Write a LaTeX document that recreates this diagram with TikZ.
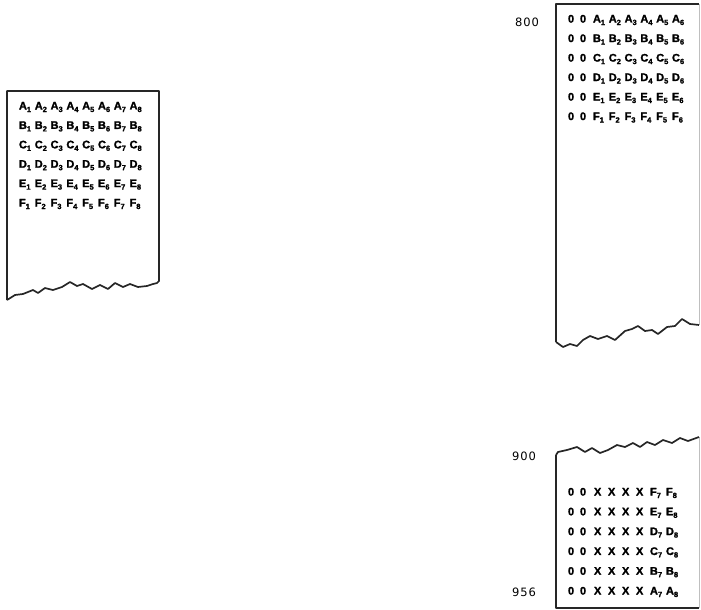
\documentclass[tikz,border=0pt]{standalone}
\usepackage{fontspec}
\setmainfont{Liberation Sans}
\newfontfamily\entfont[FakeBold=1.6]{Liberation Sans Bold}
\newfontfamily\lblfont[LetterSpace=8]{DejaVu Sans}
\newcommand{\ent}[2]{{\entfont\fontsize{11}{11}\selectfont #1}\raisebox{-2.5pt}{\entfont\fontsize{7.5}{7.5}\selectfont #2}}
\begin{document}
\begin{tikzpicture}[x=1pt,y=-1pt,
  edge/.style={draw=black!85,line width=1.7pt,line join=round},
  faint/.style={draw=black!25,line width=0.8pt},
  cell/.style={anchor=west,inner sep=0pt,outer sep=0pt},
  lbl/.style={anchor=center,inner sep=0pt,font=\lblfont\fontsize{11.5}{11.5}\selectfont}]
\useasboundingbox (0,0) rectangle (701,610);
% left box
\coordinate (L1) at (7,300);
\coordinate (L2) at (159,281);
\draw[edge] (L1) -- (7,91) -- (159,91) -- (L2)
  -- (157,283) -- (153,284) -- (147,286) -- (138,287) -- (130,284) -- (123,287)
  -- (115,283) -- (108,289) -- (100,285) -- (92,289) -- (83,284) -- (77,286)
  -- (70,282) -- (62,287) -- (53,290) -- (45,288) -- (38,293) -- (33,290)
  -- (23,294) -- (15,295) -- (L1);
% left box rows
\foreach \r [count=\j from 0] in {A,B,C,D,E,F}{
  \foreach \k [count=\i from 0] in {1,...,8}{
    \node[cell] (l\r\k) at ({19+15.8*\i},{107+19.4*\j}) {\ent{\r}{\k}};
  }
}
% top right box
\coordinate (T1) at (556,342);
\coordinate (T2) at (699,325);
\draw[edge] (T1) -- (556,4) -- (699,4);
\draw[faint] (699,4) -- (T2);
\draw[edge] (T1) -- (563,347) -- (570,344) -- (577,346) -- (583,340) -- (590,336)
  -- (598,339) -- (607,336) -- (615,340) -- (625,331) -- (632,329) -- (638,326)
  -- (645,331) -- (652,330) -- (658,334) -- (667,327) -- (675,326) -- (682,319)
  -- (690,324) -- (T2);
\node[lbl] (n800) at (527,22) {800};
\foreach \r [count=\j from 0] in {A,B,C,D,E,F}{
  \node[cell] (tz\r a) at (568,{20+19.5*\j}) {\ent{0}{}};
  \node[cell] (tz\r b) at (580,{20+19.5*\j}) {\ent{0}{}};
  \foreach \k [count=\i from 0] in {1,...,6}{
    \node[cell] (t\r\k) at ({593+15.8*\i},{20+19.5*\j}) {\ent{\r}{\k}};
  }
}
% bottom right box
\coordinate (B1) at (556,455);
\coordinate (B2) at (699,437);
\draw[edge] (B1) -- (556,608) -- (699,608);
\draw[faint] (699,608) -- (B2);
\draw[edge] (B1) -- (558,452) -- (567,450) -- (577,447) -- (585,452) -- (592,448)
  -- (600,453) -- (608,450) -- (617,445) -- (625,447) -- (633,443) -- (640,447)
  -- (647,442) -- (655,445) -- (663,440) -- (672,443) -- (680,438) -- (688,441)
  -- (B2);
\node[lbl] (n900) at (524,456) {900};
\node[lbl] (n956) at (524,592) {956};
\foreach \r [count=\j from 0] in {F,E,D,C,B,A}{
  \node[cell] (bz\r a) at (568,{493+19.8*\j}) {\ent{0}{}};
  \node[cell] (bz\r b) at (580,{493+19.8*\j}) {\ent{0}{}};
  \foreach \x [count=\i from 0] in {1,2,3,4}{
    \node[cell] (bx\r\x) at ({594+14*\i},{493+19.8*\j}) {\ent{X}{}};
  }
  \node[cell] (b\r 7) at (650,{493+19.8*\j}) {\ent{\r}{7}};
  \node[cell] (b\r 8) at (666,{493+19.8*\j}) {\ent{\r}{8}};
}
\end{tikzpicture}
\end{document}
